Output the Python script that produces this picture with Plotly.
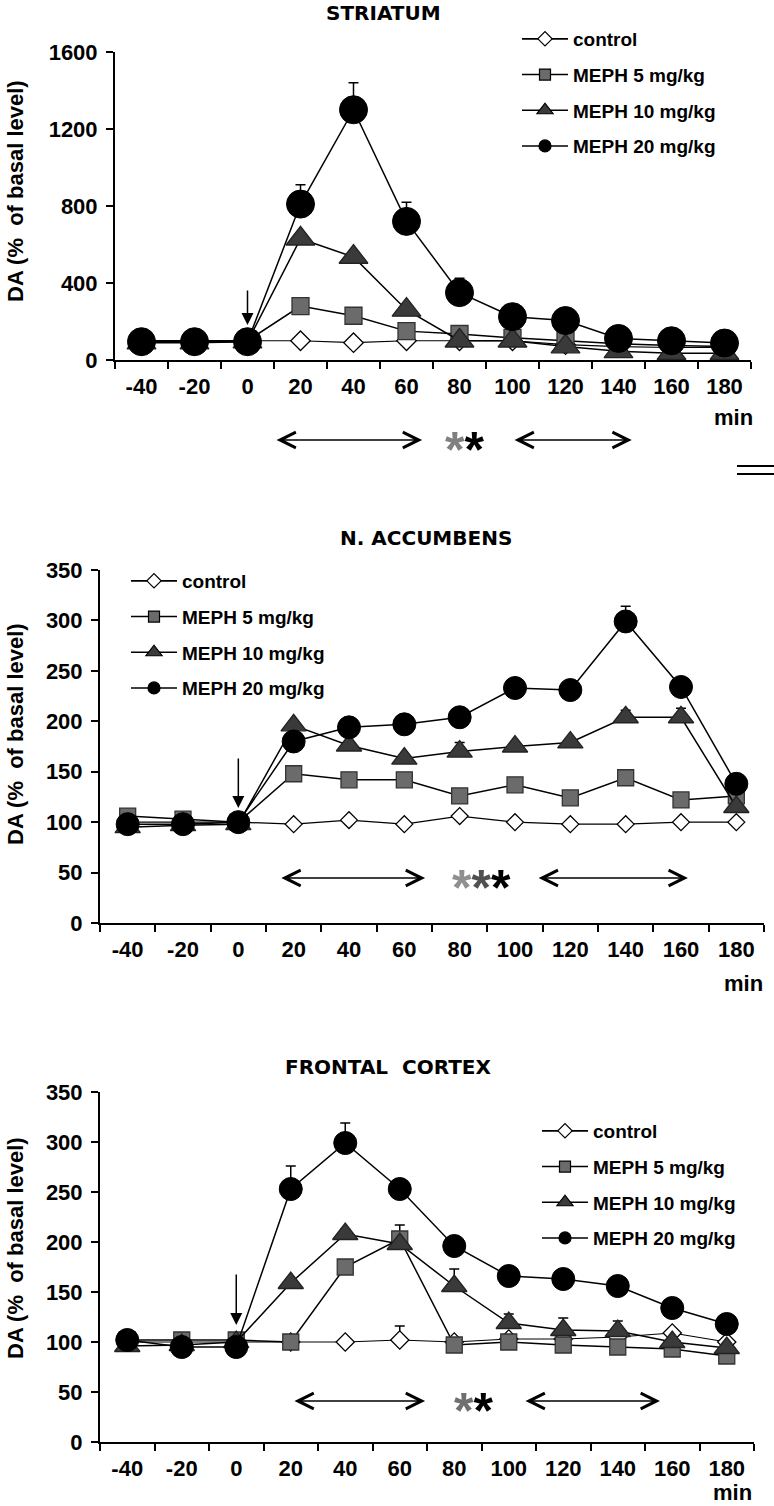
import plotly.graph_objects as go

W, H = 774, 1506

# ---------------- data ----------------
minutes = [-40, -20, 0, 20, 40, 60, 80, 100, 120, 140, 160, 180]
tick_labels = ["-40", "-20", "0", "20", "40", "60", "80", "100", "120", "140", "160", "180"]
series_names = ["control", "MEPH 5 mg/kg", "MEPH 10 mg/kg", "MEPH 20 mg/kg"]

# Striatum
str_control = [100, 100, 100, 100, 90, 100, 100, 100, 80, 70, 65, 65]
str_meph5 = [100, 100, 100, 280, 230, 150, 135, 115, 100, 85, 75, 70]
str_meph10 = [90, 90, 95, 630, 535, 260, 100, 100, 70, 45, 35, 35]
str_meph20 = [95, 95, 95, 810, 1300, 720, 350, 225, 205, 112, 100, 88]
str_err20 = [0, 0, 0, 100, 140, 100, 75, 40, 0, 0, 0, 0]

# N. Accumbens
na_control = [100, 100, 100, 98, 102, 98, 106, 100, 98, 98, 100, 100]
na_meph5 = [106, 103, 100, 148, 142, 142, 126, 137, 124, 144, 122, 126]
na_meph10 = [95, 97, 98, 196, 176, 163, 170, 175, 179, 204, 204, 115]
na_meph20 = [98, 98, 100, 180, 194, 197, 204, 233, 231, 299, 234, 138]
na_err10 = [0, 0, 0, 0, 0, 0, 9, 0, 0, 7, 9, 0]
na_err20 = [0, 0, 0, 0, 0, 0, 0, 0, 0, 15, 0, 0]

# Frontal cortex
fc_control = [100, 100, 100, 100, 100, 102, 100, 103, 103, 105, 109, 100]
fc_meph5 = [102, 102, 102, 100, 175, 203, 97, 100, 97, 95, 93, 86]
fc_meph10 = [96, 97, 100, 159, 208, 198, 156, 119, 112, 111, 100, 94]
fc_meph20 = [102, 95, 95, 253, 299, 253, 196, 166, 163, 156, 134, 118]
fc_err_control = [0, 0, 0, 0, 0, 14, 0, 0, 0, 0, 4, 0]
fc_err5 = [0, 0, 0, 0, 0, 14, 0, 0, 0, 0, 0, 0]
fc_err10 = [0, 0, 0, 0, 5, 0, 17, 9, 12, 10, 0, 0]
fc_err20 = [0, 0, 0, 23, 20, 0, 0, 0, 0, 0, 0, 0]

# ---------------- helpers ----------------
def px_x(p):
    return p / W

def px_y(p):
    return 1 - p / H

ARIAL = "Liberation Sans, Arial, sans-serif"
TICK_FONT = dict(family=ARIAL, size=22, color="black", weight="bold")
LEG_FONT = dict(family=ARIAL, size=19, color="black", weight="bold")
TITLE_FONT = dict(family="DejaVu Sans, sans-serif", size=20, color="black", weight="bold")

styles = [
    dict(symbol="diamond", color="white", line=dict(color="black", width=1.3)),
    dict(symbol="square", color="#6b6b6b", line=dict(color="#333333", width=1.3)),
    dict(symbol="triangle-up", color="#3a3a3a", line=dict(color="#222222", width=1.3)),
    dict(symbol="circle", color="black", line=dict(color="black", width=1)),
]
legend_sizes = [11, 11, 14, 12]

fig = go.Figure()

panels = [
    dict(xa="x", ya="y", leg="legend",
         data=[str_control, str_meph5, str_meph10, str_meph20],
         errs=[None, None, None, str_err20],
         sizes=[15, 17, 25, 28]),
    dict(xa="x2", ya="y2", leg="legend2",
         data=[na_control, na_meph5, na_meph10, na_meph20],
         errs=[None, None, na_err10, na_err20],
         sizes=[13, 16, 22, 23]),
    dict(xa="x3", ya="y3", leg="legend3",
         data=[fc_control, fc_meph5, fc_meph10, fc_meph20],
         errs=[fc_err_control, fc_err5, fc_err10, fc_err20],
         sizes=[14, 16, 22, 23]),
]

for p in panels:
    for i, (name, vals) in enumerate(zip(series_names, p["data"])):
        st = styles[i]
        err = p["errs"][i]
        grp = p["leg"] + str(i)
        kw = {}
        if err is not None:
            kw["error_y"] = dict(type="data", symmetric=False, array=err,
                                 arrayminus=[0] * len(err), color="black",
                                 thickness=1.5, width=5)
        lw = 1.5 if i else 1.2
        fig.add_trace(go.Scatter(
            x=minutes, y=vals, name=name, mode="lines+markers",
            xaxis=p["xa"], yaxis=p["ya"], legend=p["leg"],
            legendgroup=grp, showlegend=False,
            line=dict(color="black", width=lw),
            marker=dict(symbol=st["symbol"], size=p["sizes"][i], color=st["color"],
                        line=st["line"]),
            cliponaxis=False,
            **kw))
        # legend key (small symbol on a thin line), linked to the series above
        fig.add_trace(go.Scatter(
            x=[None], y=[None], name=name, mode="lines+markers",
            xaxis=p["xa"], yaxis=p["ya"], legend=p["leg"],
            legendgroup=grp, showlegend=True,
            line=dict(color="black", width=1.6),
            marker=dict(symbol=st["symbol"], size=legend_sizes[i], color=st["color"],
                        line=dict(color="black", width=1.2))))

def xaxis(domain, anchor):
    return dict(domain=domain, anchor=anchor, range=[-50, 190], automargin=False,
                tickmode="array", tickvals=minutes, ticktext=tick_labels,
                ticks="", showgrid=False, zeroline=False,
                showline=True, linecolor="black", linewidth=2,
                tickfont=TICK_FONT, ticklabelstandoff=6,
                minor=dict(tickmode="array", tickvals=list(range(-50, 191, 20)),
                           ticks="outside", ticklen=7, tickwidth=2, tickcolor="black"))

def yaxis(domain, anchor, rng, dtick):
    return dict(domain=domain, anchor=anchor, range=rng, dtick=dtick, tick0=0,
                automargin=False,
                ticks="outside", ticklen=7, tickwidth=2, tickcolor="black",
                showgrid=False, zeroline=False, showline=True,
                linecolor="black", linewidth=2, tickfont=TICK_FONT,
                ticklabelstandoff=4)

layout = dict(
    width=W, height=H, margin=dict(l=0, r=0, t=0, b=0, autoexpand=False),
    paper_bgcolor="white", plot_bgcolor="white", showlegend=True,
    xaxis=xaxis([px_x(115), px_x(751)], "y"),
    yaxis=yaxis([px_y(360), px_y(52)], "x", [0, 1600], 400),
    xaxis2=xaxis([px_x(100), px_x(764)], "y2"),
    yaxis2=yaxis([px_y(923), px_y(570)], "x2", [0, 350], 50),
    xaxis3=xaxis([px_x(100), px_x(754)], "y3"),
    yaxis3=yaxis([px_y(1442), px_y(1092)], "x3", [0, 350], 50),
)

def legend(xp, ytop):
    return dict(x=px_x(xp), y=px_y(ytop), xanchor="left", yanchor="top",
                bgcolor="rgba(0,0,0,0)", font=LEG_FONT, tracegroupgap=8,
                itemsizing="trace", traceorder="grouped", itemwidth=46)

layout["legend"] = legend(517, 20)
layout["legend2"] = legend(126, 562)
layout["legend3"] = legend(537, 1112)

fig.update_layout(**layout)

ann = []
# panel titles
ann.append(dict(text="STRIATUM", x=px_x(383), y=px_y(13), xref="paper", yref="paper",
                showarrow=False, font=TITLE_FONT, xanchor="center", yanchor="middle"))
ann.append(dict(text="N. ACCUMBENS", x=px_x(426), y=px_y(538), xref="paper", yref="paper",
                showarrow=False, font=TITLE_FONT, xanchor="center", yanchor="middle"))
ann.append(dict(text="FRONTAL  CORTEX", x=px_x(388), y=px_y(1067), xref="paper", yref="paper",
                showarrow=False, font=TITLE_FONT, xanchor="center", yanchor="middle"))

# y titles
YT_FONT = dict(family=ARIAL, size=22, color="black", weight="bold")
for yc in (191, 734, 1248):
    ann.append(dict(text="DA (%  of basal level)", x=px_x(15), y=px_y(yc), xref="paper",
                    yref="paper", showarrow=False, textangle=-90, font=YT_FONT,
                    xanchor="center", yanchor="middle"))

# "min"
for xc, yc in ((733, 418), (743, 983), (732, 1492)):
    ann.append(dict(text="min", x=px_x(xc), y=px_y(yc), xref="paper", yref="paper",
                    showarrow=False, font=TICK_FONT, xanchor="center", yanchor="middle"))

# double arrows and stars
arrow_sets = [
    ("x", 440, [(10.4, 65.9), (100.2, 145)], 82,
     "<span style='color:#808080'>*</span>*"),
    ("x2", 878, [(15, 67.5), (108, 162.5)], 88,
     "<span style='color:#909090'>*</span><span style='color:#505050'>*</span>*"),
    ("x3", 1401, [(20.8, 69.3), (105.6, 155.5)], 87,
     "<span style='color:#707070'>*</span>*"),
]
STAR_FONT = dict(family=ARIAL, size=50, color="black", weight="bold")
for xa, ypx, segs, xs, stars in arrow_sets:
    for a, b in segs:
        ann.append(dict(x=b, y=px_y(ypx), xref=xa, yref="paper", ax=a, ay=0,
                        axref=xa, ayref="pixel", text="", showarrow=True,
                        arrowhead=5, startarrowhead=5, arrowside="end+start",
                        arrowsize=2.4, startarrowsize=2.4, arrowwidth=1.3,
                        arrowcolor="black"))
    ann.append(dict(x=xs, y=px_y(ypx + 10), xref=xa, yref="paper", text=stars,
                    showarrow=False, font=STAR_FONT, xanchor="center", yanchor="middle"))

# injection arrows at time 0
for xa, ya, yhead, tail in (("x", "y", 182, -36), ("x2", "y2", 114, -51), ("x3", "y3", 117, -52)):
    ann.append(dict(x=0, y=yhead, xref=xa, yref=ya, ax=0, ay=tail, text="",
                    showarrow=True, arrowhead=2, arrowsize=1.6, arrowwidth=1.5,
                    arrowcolor="black"))

fig.update_layout(annotations=ann)

# the '=' mark at right edge
for yy in (466, 474):
    fig.add_shape(type="line", xref="paper", yref="paper", x0=px_x(737), x1=1.0,
                  y0=px_y(yy), y1=px_y(yy), line=dict(color="black", width=2))

fig.write_html("out.html", config={"displayModeBar": False},
               post_script="document.body.style.margin='0px';"
                           "document.body.style.overflow='hidden';")
